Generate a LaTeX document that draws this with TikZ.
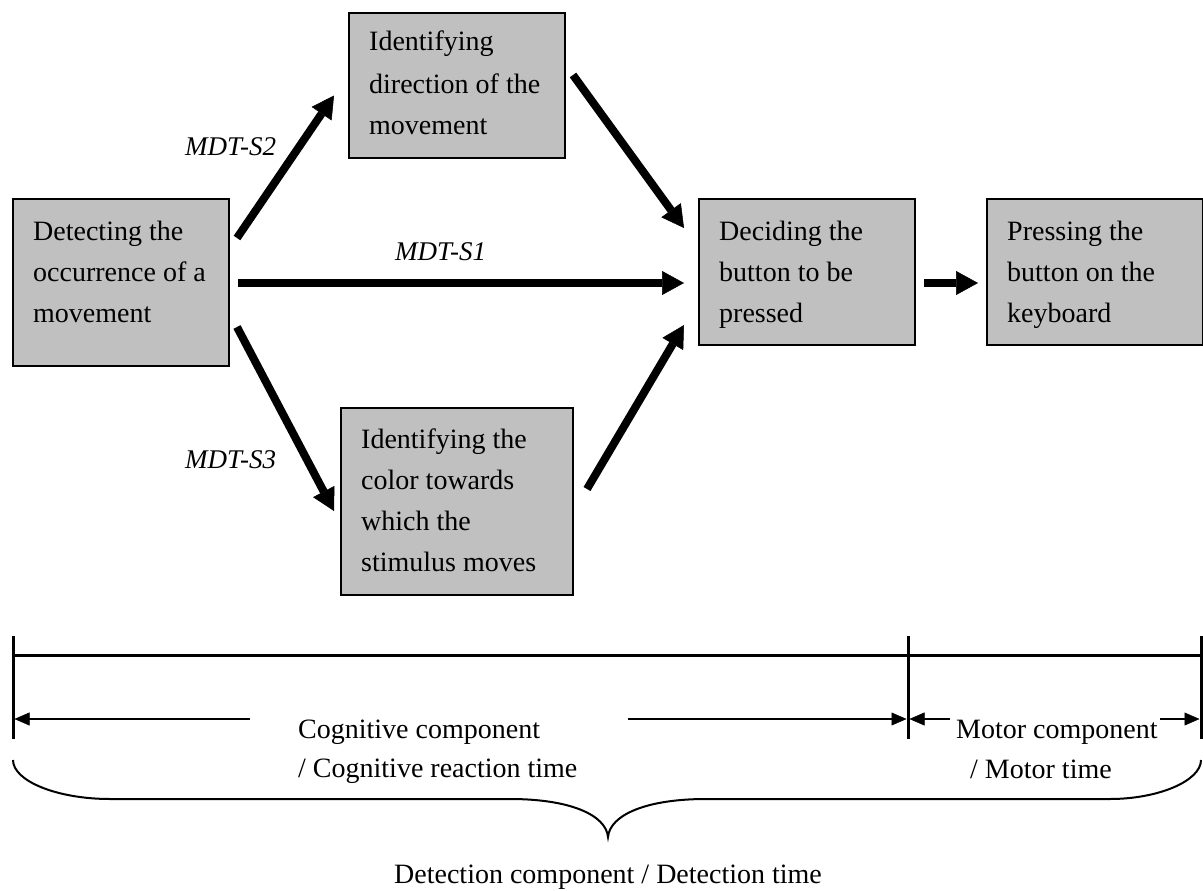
\documentclass[tikz,border=0pt]{standalone}
\usepackage{fontspec}
\setmainfont{Liberation Serif}
\usetikzlibrary{arrows.meta,calc}
\definecolor{boxgray}{RGB}{192,192,192}
\begin{document}
\begin{tikzpicture}[x=1pt,y=-1pt,
  box/.style={draw=black,line width=2pt,fill=boxgray,rectangle,inner sep=0pt,anchor=north west},
  boxline/.style={anchor=base west,inner sep=0pt,font=\fontsize{28pt}{41pt}\selectfont},
  mdt/.style={anchor=base west,inner sep=0pt,font=\fontsize{27pt}{32pt}\selectfont\itshape},
  caption/.style={anchor=base west,inner sep=0pt,font=\fontsize{28pt}{41pt}\selectfont},
  flow/.style={line width=8pt,-{Triangle[length=22pt,width=24pt,line width=0.5pt]}},
  bar/.style={line width=3pt},
  span/.style={line width=1.5pt,-{Triangle[length=15pt,width=13pt,line width=0.5pt]}},
  brace/.style={line width=2pt},
]
\useasboundingbox (0,0) rectangle (1203,891);

% process boxes
\node[box,minimum width=216pt,minimum height=167pt] (A) at (12,198) {};
\node[box,minimum width=216pt,minimum height=145pt] (B) at (348,12) {};
\node[box,minimum width=232pt,minimum height=187pt] (C) at (340,407) {};
\node[box,minimum width=216pt,minimum height=146pt] (D) at (698,198) {};
\node[box,minimum width=216pt,minimum height=146pt] (E) at (986,198) {};

% box texts, one node per line
\foreach \t [count=\i from 0] in {Detecting the,occurrence of a,movement}
  \node[boxline] (A-\i) at ($(A.north west)+(21,42+41*\i)$) {\t};
\foreach \t [count=\i from 0] in {Identifying,direction of the,movement}
  \node[boxline] (B-\i) at ($(B.north west)+(21,39+42*\i)$) {\t};
\foreach \t [count=\i from 0] in {Identifying the,color towards,which the,stimulus moves}
  \node[boxline] (C-\i) at ($(C.north west)+(21,41+41*\i)$) {\t};
\foreach \t [count=\i from 0] in {Deciding the,button to be,pressed}
  \node[boxline] (D-\i) at ($(D.north west)+(21,42+41*\i)$) {\t};
\foreach \t [count=\i from 0] in {Pressing the,button on the,keyboard}
  \node[boxline] (E-\i) at ($(E.north west)+(21,42+41*\i)$) {\t};

% connectors
\coordinate (ad) at ($(A.east)+(8,0.5)$);
\coordinate (dw) at ($(D.west)+(-14,0)$);
\draw[flow] ($(A.north east)+(7,40)$) -- ($(B.west)+(-14,10)$);
\draw[flow] ($(B.north east)+(7,63)$) -- ($(D.north west)+(-14,30)$);
\draw[flow] (ad) -- (ad -| dw);
\draw[flow] ($(A.south east)+(7,-40)$) -- ($(C.west)+(-6,9.5)$);
\draw[flow] ($(C.east)+(13,-12.5)$) -- ($(D.south west)+(-14,-21)$);
\draw[flow] ($(D.east)+(8,11)$) -- ($(E.west)+(-8,11)$);

% path labels
\node[mdt] (s2) at (185,155) {MDT-S2};
\node[mdt] (s1) at (395,260) {MDT-S1};
\node[mdt] (s3) at (185,468) {MDT-S3};

% time scale
\coordinate (t0) at (13,655);
\coordinate (t1) at (908,655);
\coordinate (t2) at (1201,655);
\draw[bar] (t0) -- (t2);
\foreach \c in {t0,t1,t2}
  \draw[bar] ($(\c)+(0,-19)$) -- ($(\c)+(0,84)$);

\draw[span] ($(t0)+(237,64)$) -- ($(t0)+(1.5,64)$);
\draw[span] (628,719) -- ($(t1)+(-1.5,64)$);
\draw[span] (950,719) -- ($(t1)+(1.5,64)$);
\draw[span] (1160,719) -- ($(t2)+(-1.5,64)$);

\node[caption] (cog1) at (298,738) {Cognitive component};
\node[caption] (cog2) at (298,777) {/ Cognitive reaction time};
\node[caption] (mot1) at (956,738) {Motor component};
\node[caption] (mot2) at (970,778) {/ Motor time};

% brace under the whole scale
\draw[brace] (13,760) .. controls (13,781) and (57,799) .. (110,799)
  -- (510,799) .. controls (570,799) and (606,815) .. (608,837)
  .. controls (610,815) and (646,799) .. (706,799)
  -- (1110,799) .. controls (1158,799) and (1201,781) .. (1201,760);

\node[caption,anchor=base] (det) at (608,883) {Detection component / Detection time};
\end{tikzpicture}
\end{document}
